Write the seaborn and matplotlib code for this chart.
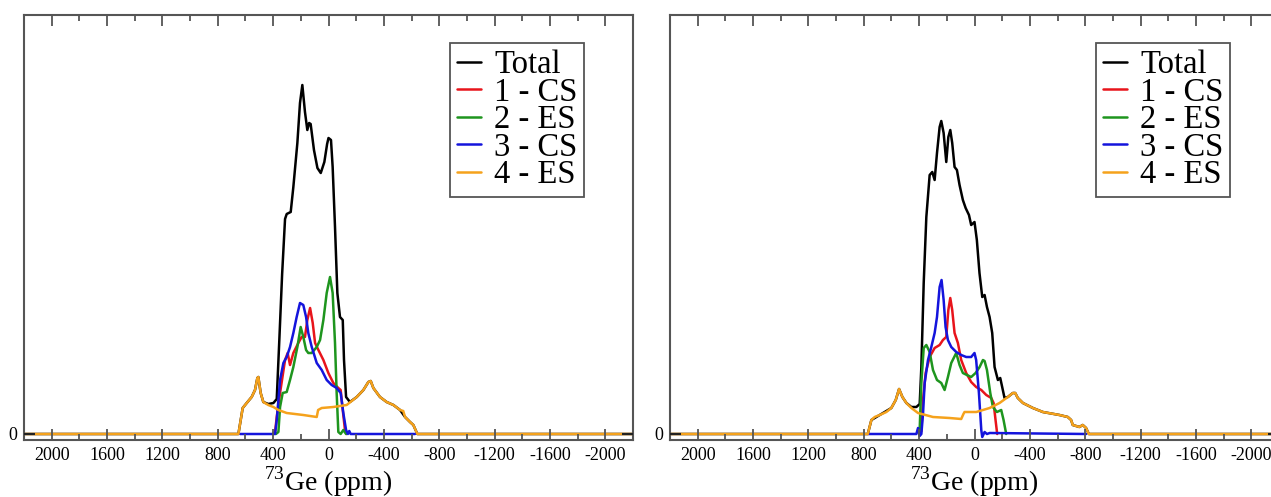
import numpy as np
import pandas as pd
import seaborn as sns
import matplotlib
matplotlib.use('Agg')
import matplotlib.pyplot as plt
from matplotlib.ticker import MultipleLocator

# --- left panel (a): 73Ge spectra, intensities in arbitrary units ---
a_total_ppm = [2200, 651, 620, 591, 555, 531, 514, 507, 490, 471, 435, 398, 374, 355, 335, 314, 302, 273, 254, 225,
               206, 189, 170, 153, 140, 129, 105, 80, 56, 30, 10, 0, -18, -30, -47, -64, -83, -103, -112, -127, -155,
               -204, -252, -288, -305, -324, -372, -420, -469, -517, -553, -589, -613, -642, -2200]
a_total = [0, 0, 26, 31, 37, 44, 56, 57, 41, 32, 30, 31, 35, 95, 160, 215, 220, 222, 247, 291,
           331, 349, 322, 304, 311, 310, 284, 266, 261, 272, 290, 296, 294, 267, 207, 141, 117, 114, 74, 37, 32,
           37, 44, 52, 53, 46, 37, 32, 29, 24, 17, 12, 9, 0, 0]

a_red_ppm = [400, 386, 374, 350, 314, 295, 278, 254, 218, 194, 170, 153, 133, 114, 97, 73, 37, 1, -35, -71,
             -88, -103, -119, -130]
a_red = [0, 2, 17, 41, 74, 81, 69, 81, 91, 97, 97, 114, 126, 111, 91, 84, 74, 61, 51, 46,
         44, 24, 4, 0]

a_green_ppm = [380, 362, 350, 331, 302, 278, 254, 225, 201, 182, 162, 146, 121, 85, 61, 37, 13, -11, -30, -47,
               -59, -71, -88, -107, -127]
a_green = [0, 2, 27, 41, 42, 54, 67, 87, 107, 97, 84, 81, 81, 87, 94, 114, 141, 157, 141, 91,
           41, 2, 0, 4, 0]

a_blue_ppm = [639, 500, 386, 374, 350, 326, 302, 278, 254, 230, 206, 182, 162, 146, 121, 85, 49, 13, -23, -59,
              -88, -107, -127, -140, -150, -160, -625]
a_blue = [0, 0, 0, 14, 54, 71, 77, 87, 101, 117, 131, 129, 117, 101, 87, 71, 64, 54, 49, 46,
          41, 21, 4, 0, 3, 0, 0]

a_orange_ppm = [2200, 651, 620, 591, 555, 531, 514, 507, 490, 471, 435, 398, 362, 302, 182, 85, 75, 49, -35, -131,
                -204, -252, -288, -305, -324, -372, -420, -469, -517, -540, -553, -589, -613, -642, -2200]
a_orange = [0, 0, 26, 31, 37, 44, 56, 57, 41, 32, 29, 27, 24, 21, 19, 17, 24, 26, 27, 29,
            37, 44, 52, 53, 46, 37, 32, 29, 24, 23, 17, 12, 9, 0, 0]

# --- right panel (b) ---
b_total_ppm = [2200, 771, 745, 685, 601, 569, 545, 521, 492, 456, 420, 396, 384, 367, 348, 324, 305, 288, 271, 252,
               240, 223, 204, 189, 175, 161, 144, 127, 108, 84, 64, 40, 24, 0, -17, -36, -56, -73, -90, -109,
               -128, -145, -169, -186, -200, -217, -241, -277, -294, -313, -350, -422, -494, -614, -674, -698, -710,
               -758, -782, -806, -826, -2200]
b_total = [0, 0, 14, 19, 26, 34, 45, 37, 31, 27, 27, 30, 67, 151, 217, 259, 262, 254, 281, 307,
           313, 301, 272, 297, 304, 291, 267, 264, 249, 234, 226, 219, 209, 212, 194, 161, 137, 139, 127, 117,
           101, 67, 54, 56, 47, 36, 37, 41, 41, 36, 31, 26, 22, 19, 17, 14, 9,
           7, 9, 6, 0, 0]

b_red_ppm = [395, 384, 372, 353, 324, 288, 252, 228, 204, 189, 175, 161, 144, 120, 96, 60, 24, -12, -49, -85,
             -121, -138, -152, -164]
b_red = [0, 3, 34, 61, 77, 86, 89, 94, 97, 124, 136, 124, 101, 91, 74, 61, 52, 47, 44, 39,
         36, 31, 14, 0]

b_green_ppm = [400, 396, 384, 367, 348, 324, 300, 271, 240, 216, 192, 168, 132, 108, 84, 55, 24, -8, -37, -61,
               -73, -90, -114, -133, -162, -193, -210, -229]
b_green = [0, 5, 51, 86, 89, 82, 64, 54, 51, 44, 57, 71, 81, 69, 61, 59, 57, 61, 67, 74,
           73, 64, 41, 27, 22, 24, 14, 0]

b_blue_ppm = [769, 600, 420, 408, 396, 384, 372, 360, 336, 312, 288, 271, 252, 238, 223, 209, 192, 168, 132, 96,
              60, 24, 0, -12, -32, -49, -56, -73, -90, -110, -806]
b_blue = [0, 0, 0, 6, -2, 0, 20, 51, 74, 87, 101, 117, 147, 154, 134, 107, 94, 87, 82, 79,
          77, 77, 81, 74, 41, 4, -3, 2, 0, 1, 0]

b_orange_ppm = [2200, 771, 745, 721, 685, 637, 601, 569, 545, 521, 492, 456, 408, 300, 180, 96, 80, 72, -13, -109,
                -181, -241, -277, -294, -313, -350, -422, -494, -614, -674, -698, -710, -758, -782, -806, -826, -2200]
b_orange = [0, 0, 14, 17, 19, 22, 26, 34, 45, 37, 31, 26, 21, 17, 16, 15, 20, 22, 22, 26,
            31, 37, 41, 41, 36, 31, 26, 22, 19, 17, 14, 9, 7, 9, 6, 0, 0]

labels = ['Total', '1 - CS', '2 - ES', '3 - CS', '4 - ES']
colors = ['black', '#e8141b', '#1e951e', '#1414dc', '#f5a21c']
x_ticks_step = 400

sns.set_theme(style='white')
plt.rcParams['font.family'] = ['Liberation Serif', 'DejaVu Serif']
plt.rcParams['mathtext.fontset'] = 'custom'
plt.rcParams['mathtext.rm'] = 'Liberation Serif'
plt.rcParams['axes.unicode_minus'] = False
plt.rcParams['text.color'] = 'black'
plt.rcParams['axes.labelcolor'] = 'black'
plt.rcParams['xtick.labelcolor'] = 'black'
plt.rcParams['ytick.labelcolor'] = 'black'

W, H = 1271, 497
fig = plt.figure(figsize=(W / 100, H / 100), dpi=100)
ax_a = fig.add_axes([24 / W, (H - 440) / H, 609 / W, 425 / H])
ax_b = fig.add_axes([670 / W, (H - 440) / H, 609 / W, 425 / H])

panels = [
    (ax_a, [(a_total_ppm, a_total), (a_red_ppm, a_red), (a_green_ppm, a_green),
            (a_blue_ppm, a_blue), (a_orange_ppm, a_orange)]),
    (ax_b, [(b_total_ppm, b_total), (b_red_ppm, b_red), (b_green_ppm, b_green),
            (b_blue_ppm, b_blue), (b_orange_ppm, b_orange)]),
]

frame_col = '#555555'
for ax, series in panels:
    for (ppm, val), lbl, col in zip(series, labels, colors):
        df = pd.DataFrame({'ppm': ppm, 'I': val})
        sns.lineplot(data=df, x='ppm', y='I', ax=ax, color=col, lw=1.8,
                     label=lbl, estimator=None, sort=False)

    ax.set_xlim(2200, -2200)
    ax.set_ylim(-6, 419)
    ax.xaxis.set_major_locator(MultipleLocator(x_ticks_step))
    ax.xaxis.set_minor_locator(MultipleLocator(x_ticks_step / 2))
    ax.set_yticks([0])
    ax.set_yticklabels(['0'])
    ax.set_axisbelow(False)
    ax.tick_params(axis='x', which='both', direction='in', top=True, bottom=True,
                   color=frame_col, labelcolor='black', labelsize=13, pad=5)
    ax.tick_params(axis='x', which='major', length=8, width=1.3)
    ax.tick_params(axis='x', which='minor', length=4, width=1.3)
    ax.tick_params(axis='y', which='major', direction='in', left=True, right=True,
                   color='#222222', labelcolor='black', length=8, width=1.5, labelsize=13, pad=5)
    for sp in ax.spines.values():
        sp.set_color(frame_col)
        sp.set_linewidth(1.5)
    ax.set_ylabel('')
    ax.set_xlabel(r'$^{73}$Ge (ppm)', fontsize=20, labelpad=0.5, color='black')

    leg = ax.legend(loc='upper left', bbox_to_anchor=(0.70, 0.934), borderaxespad=0,
                    fontsize=23.5, labelspacing=-0.09, handlelength=0.75, handletextpad=0.4,
                    borderpad=0.2, fancybox=False, framealpha=1, edgecolor=frame_col)
    leg.get_frame().set_linewidth(1.3)
    for line in leg.get_lines():
        line.set_linewidth(1.8)
    for t in leg.get_texts():
        t.set_color('black')

fig.savefig('out.png', dpi=100)
